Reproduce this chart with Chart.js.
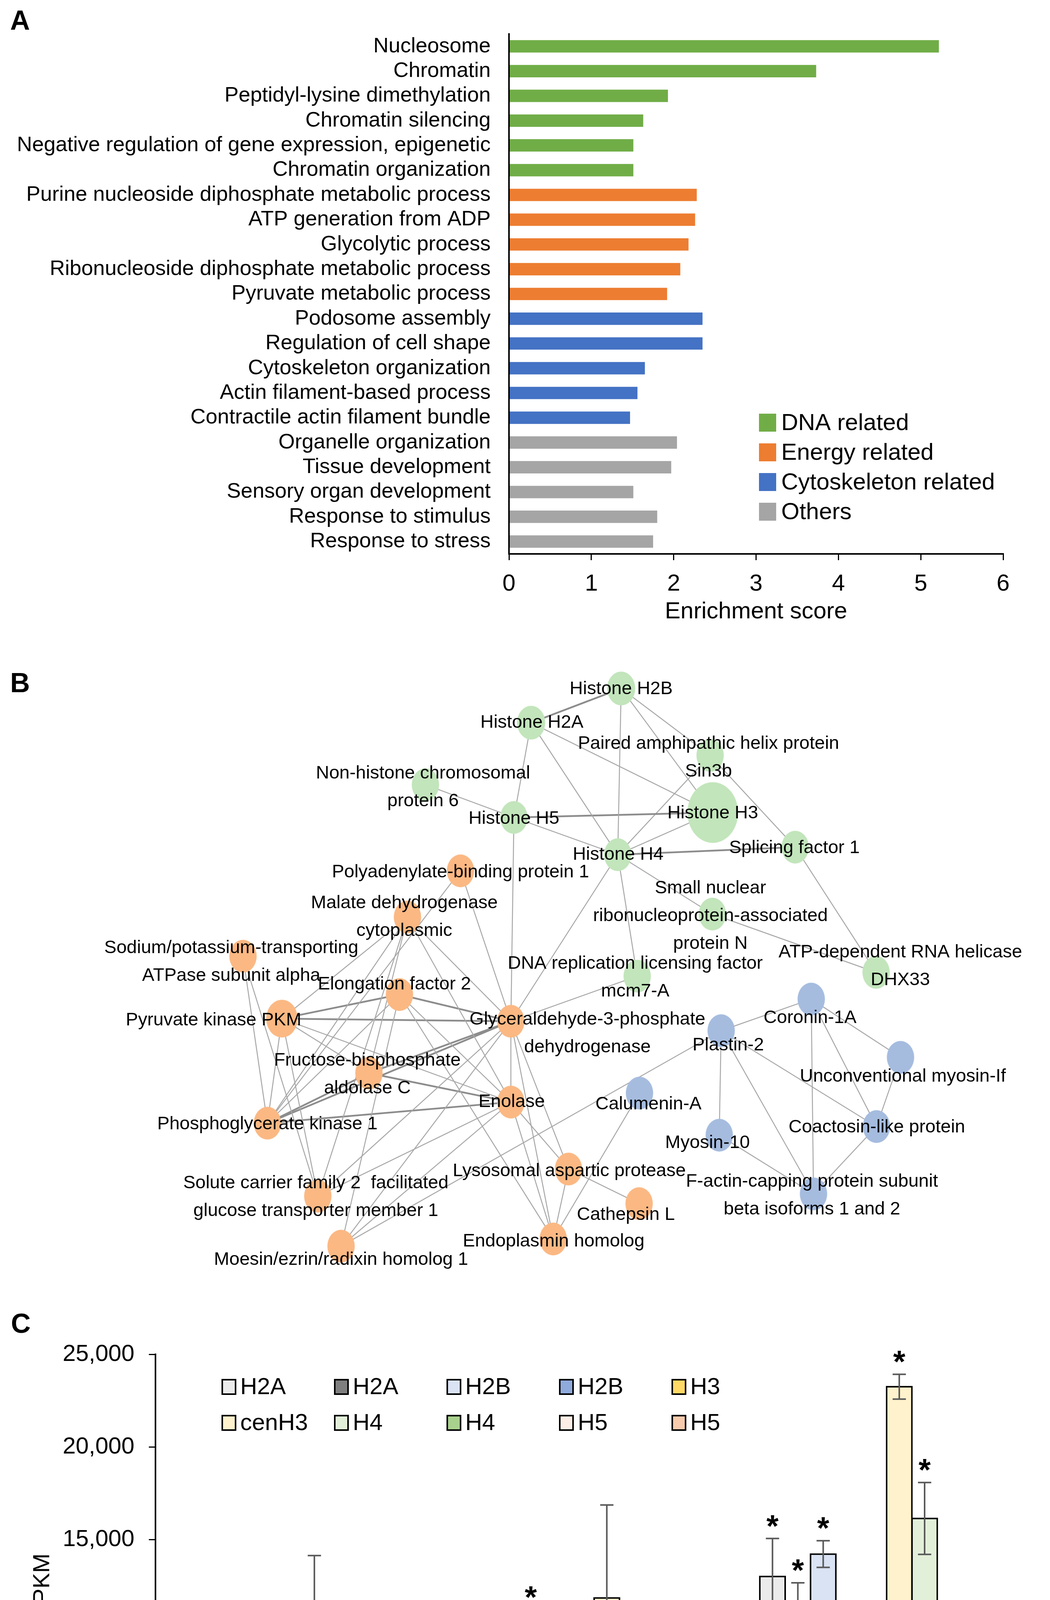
<!DOCTYPE html>
<html>
<head>
<meta charset="utf-8">
<script src="https://cdn.jsdelivr.net/npm/chart.js@4.4.1/dist/chart.umd.min.js"></script>
<style>
  html, body { margin: 0; padding: 0; background: #fff; }
  body { width: 2688px; height: 4888px; position: relative; overflow: hidden; }
  canvas { position: absolute; left: 0; }
  .tag { position: absolute; font: bold 70px 'Liberation Sans', Arial, sans-serif; line-height: 1; color: #000; z-index: 2; }
</style>
</head>
<body>
<canvas id="chartA" width="2688" height="1640" style="top:0;width:2688px;height:1640px"></canvas>
<canvas id="chartB" width="2688" height="1660" style="top:1640px;width:2688px;height:1660px"></canvas>
<canvas id="chartC" width="2688" height="1588" style="top:3300px;width:2688px;height:1588px"></canvas>
<div class="tag" style="left:26px;top:17px">A</div>
<div class="tag" style="left:26px;top:1713px">B</div>
<div class="tag" style="left:28px;top:3353px">C</div>
<script>
const FONT = "'Liberation Sans', Arial, sans-serif";
Chart.defaults.font.family = FONT;
Chart.defaults.color = '#000';

// ---- Panel A data ----
const goTerms = [
  'Nucleosome', 'Chromatin', 'Peptidyl-lysine dimethylation', 'Chromatin silencing',
  'Negative regulation of gene expression, epigenetic', 'Chromatin organization',
  'Purine nucleoside diphosphate metabolic process', 'ATP generation from ADP',
  'Glycolytic process', 'Ribonucleoside diphosphate metabolic process', 'Pyruvate metabolic process',
  'Podosome assembly', 'Regulation of cell shape', 'Cytoskeleton organization',
  'Actin filament-based process', 'Contractile actin filament bundle',
  'Organelle organization', 'Tissue development', 'Sensory organ development',
  'Response to stimulus', 'Response to stress'
];
const enrichment = [5.22, 3.73, 1.93, 1.63, 1.51, 1.51, 2.28, 2.26, 2.18, 2.08, 1.92,
                    2.35, 2.35, 1.65, 1.56, 1.47, 2.04, 1.97, 1.51, 1.80, 1.75];
const termGroup = [0, 0, 0, 0, 0, 0, 1, 1, 1, 1, 1, 2, 2, 2, 2, 2, 3, 3, 3, 3, 3];
const groupNames = ['DNA related', 'Energy related', 'Cytoskeleton related', 'Others'];
const groupColors = ['#70ad47', '#ed7d31', '#4472c4', '#a5a5a5'];
const scoreTicks = [0, 6];

// ---- Panel B data (network layout units) ----
const nodeIds = ['H2B', 'H2A', 'SIN3B', 'NHP6', 'H5', 'H3', 'H4', 'SF1', 'SNRPN', 'MCM7', 'DHX33',
  'PABP1', 'MDH', 'NAK', 'EF2', 'PKM', 'GAPDH', 'FBA', 'ENO', 'PGK', 'LAP', 'SLC2', 'CTSL', 'ENPL', 'MOES',
  'CORO', 'PLS2', 'MYO1F', 'CALU', 'COTL', 'MYO10', 'CAPZB'];
const nodeNames = [
  ['Histone H2B'], ['Histone H2A'], ['Paired amphipathic helix protein', 'Sin3b'],
  ['Non-histone chromosomal', 'protein 6'], ['Histone H5'], ['Histone H3'], ['Histone H4'],
  ['Splicing factor 1'], ['Small nuclear', 'ribonucleoprotein-associated', 'protein N'],
  ['DNA replication licensing factor', 'mcm7-A'], ['ATP-dependent RNA helicase', 'DHX33'],
  ['Polyadenylate-binding protein 1'], ['Malate dehydrogenase', 'cytoplasmic'],
  ['Sodium/potassium-transporting', 'ATPase subunit alpha'], ['Elongation factor 2'],
  ['Pyruvate kinase PKM'], ['Glyceraldehyde-3-phosphate', 'dehydrogenase'],
  ['Fructose-bisphosphate', 'aldolase C'], ['Enolase'], ['Phosphoglycerate kinase 1'],
  ['Lysosomal aspartic protease'], ['Solute carrier family 2  facilitated', 'glucose transporter member 1'],
  ['Cathepsin L'], ['Endoplasmin homolog'], ['Moesin/ezrin/radixin homolog 1'],
  ['Coronin-1A'], ['Plastin-2'], ['Unconventional myosin-If'], ['Calumenin-A'],
  ['Coactosin-like protein'], ['Myosin-10'], ['F-actin-capping protein subunit', 'beta isoforms 1 and 2']
];
const nodeX = [1596, 1360, 1829, 1083, 1315, 1836, 1587, 2052, 1835, 1638, 2264,
  1175, 1036, 605, 1015, 707, 1307, 935, 1307, 669, 1458, 801, 1643, 1418, 862,
  2094, 1858, 2328, 1644, 2265, 1853, 2100];
const nodeY = [95, 186, 273, 351, 438, 425, 537, 517, 695, 860, 850,
  580, 703, 807, 909, 973, 980, 1118, 1195, 1251, 1373, 1445, 1465, 1559, 1578,
  921, 1005, 1076, 1171, 1260, 1283, 1439];
const nodeCluster = [0, 0, 0, 0, 0, 0, 0, 0, 0, 0, 0,
  1, 1, 1, 1, 1, 1, 1, 1, 1, 1, 1, 1, 1, 1,
  2, 2, 2, 2, 2, 2, 2];
const nodeWeight = [1.03, 1.03, 1, 1, 1, 1.85, 1, 1, 1, 1, 1,
  1, 1, 1, 1, 1.15, 1, 1, 1, 1, 1, 1, 1, 1, 1,
  1, 1, 1, 1, 1, 1, 1];
const edges = [
  ['H2B', 'H2A', 2], ['H2B', 'H4', 1], ['H2B', 'H3', 1], ['H2B', 'SIN3B', 1], ['H2A', 'H3', 1],
  ['H2A', 'H4', 1], ['H2A', 'H5', 1], ['NHP6', 'H5', 1], ['H5', 'H4', 1], ['H5', 'H3', 2],
  ['H3', 'H4', 1], ['SIN3B', 'H4', 1], ['SIN3B', 'SF1', 1], ['H4', 'SF1', 2], ['H4', 'SNRPN', 1],
  ['SNRPN', 'DHX33', 1], ['SF1', 'DHX33', 1], ['H4', 'MCM7', 1], ['H4', 'GAPDH', 1],
  ['H5', 'GAPDH', 1], ['MCM7', 'GAPDH', 1],
  ['PABP1', 'GAPDH', 1], ['PABP1', 'PGK', 1], ['MDH', 'PKM', 1], ['MDH', 'GAPDH', 1],
  ['MDH', 'ENO', 1], ['MDH', 'PGK', 1], ['MDH', 'FBA', 1], ['MDH', 'SLC2', 1], ['NAK', 'PGK', 1],
  ['NAK', 'SLC2', 1], ['EF2', 'PKM', 2], ['EF2', 'GAPDH', 2], ['EF2', 'ENO', 1], ['EF2', 'PGK', 1],
  ['EF2', 'MOES', 1], ['EF2', 'ENPL', 1], ['PKM', 'GAPDH', 2], ['PKM', 'FBA', 1], ['PKM', 'ENO', 1],
  ['PKM', 'PGK', 1], ['PKM', 'SLC2', 1], ['GAPDH', 'FBA', 2], ['GAPDH', 'ENO', 1], ['GAPDH', 'PGK', 2],
  ['GAPDH', 'LAP', 1], ['GAPDH', 'ENPL', 1], ['GAPDH', 'SLC2', 1], ['GAPDH', 'MOES', 1],
  ['FBA', 'ENO', 2], ['FBA', 'PGK', 2], ['ENO', 'PGK', 2], ['ENO', 'LAP', 1], ['ENO', 'ENPL', 1],
  ['ENO', 'SLC2', 1], ['ENO', 'MOES', 1], ['LAP', 'CTSL', 1], ['LAP', 'ENPL', 1], ['ENPL', 'CALU', 1],
  ['PLS2', 'MOES', 1],
  ['PLS2', 'CORO', 1], ['PLS2', 'MYO10', 1], ['PLS2', 'CAPZB', 1], ['PLS2', 'COTL', 1],
  ['CORO', 'MYO1F', 1], ['CORO', 'COTL', 1], ['CORO', 'CAPZB', 1], ['MYO1F', 'COTL', 1],
  ['COTL', 'CAPZB', 1], ['MYO10', 'CAPZB', 1]
];

// ---- Panel C data ----
const days = ['0', '10', '20'];
const histoneNames = ['H2A', 'H2A', 'H2B', 'H2B', 'H3', 'cenH3', 'H4', 'H4', 'H5', 'H5'];
const fpkm = [
  [1630, 5700, 13010], [570, 3360, 10660], [1390, 6890, 14220], [140, 530, 1060], [0, 0, 220],
  [9020, 11850, 23250], [4190, 7220, 16140], [2290, 280, 700], [1460, 2720, 6020], [250, 0, 0]
];
const fpkmErr = [
  [640, 2120, 2050], [580, 1520, 2010], [720, 4320, 720], [230, 300, 490], [0, 0, 130],
  [5120, 5020, 670], [2210, 3930, 1940], [1880, 520, 1260], [830, 2100, 1050], [240, 0, 0]
];
const significant = [
  [0, 1, 1], [0, 0, 1], [0, 1, 1], [0, 0, 1], [0, 0, 1],
  [0, 0, 1], [0, 0, 1], [0, 0, 0], [0, 0, 1], [0, 0, 0]
];
const fpkmTicks = [0, 25000, 5000];
const histoneColors = ['#ebebeb', '#7f7f7f', '#dae3f3', '#8faadc', '#ffd966',
                       '#fff2cc', '#e2f0d9', '#a9d18e', '#fdefe6', '#f8cbad'];

// ================= Panel A =================
const legendA = {
  id: 'legendA',
  afterDraw(chart) {
    const {ctx, chartArea} = chart;
    ctx.save();
    ctx.font = '60px ' + FONT;
    ctx.textBaseline = 'middle';
    chart.data.datasets.forEach((ds, i) => {
      const x = chartArea.left + 640;
      const y = chartArea.top + 995 + i * 76;
      ctx.fillStyle = ds.backgroundColor;
      ctx.fillRect(x, y - 23, 44, 46);
      ctx.fillStyle = '#000';
      ctx.fillText(ds.label, x + 57, y + 2);
    });
    ctx.restore();
  }
};

new Chart(document.getElementById('chartA'), {
  type: 'bar',
  data: {
    labels: goTerms,
    datasets: groupNames.map((name, g) => ({
      label: name,
      data: enrichment.map((v, i) => termGroup[i] === g ? v : null),
      backgroundColor: groupColors[g],
      barPercentage: 0.5,
      categoryPercentage: 1,
      grouped: false
    }))
  },
  options: {
    indexAxis: 'y',
    responsive: false,
    devicePixelRatio: 1,
    animation: false,
    events: [],
    layout: { padding: { top: 87, right: 120, left: 0, bottom: 0 } },
    plugins: { legend: { display: false }, tooltip: { enabled: false } },
    scales: {
      x: {
        min: scoreTicks[0], max: scoreTicks[1],
        ticks: { stepSize: 1, font: { size: 60 }, padding: 25 },
        grid: { drawOnChartArea: false, drawTicks: true, tickLength: 16, color: '#000', lineWidth: 3 },
        border: { color: '#000', width: 4, z: 1 },
        title: { display: true, text: 'Enrichment score', font: { size: 60 }, padding: { top: 0, bottom: 38 } },
        afterFit: s => { s.height = 222; }
      },
      y: {
        ticks: { font: { size: 54 }, padding: 47, autoSkip: false },
        grid: { display: false, drawTicks: false },
        border: { color: '#000', width: 4, z: 1 },
        afterFit: s => { s.width = 1303; }
      }
    }
  },
  plugins: [legendA]
});

// ================= Panel B =================
const clusterColors = ['#c2e5bb', '#fbb883', '#a5bcdf'];
const labelShift = {
  H2B: [0, 2], H2A: [2, 0], SIN3B: [-4, 6], NHP6: [-6, 7], H5: [0, 3], H3: [0, 2], H4: [1, 0],
  SF1: [-2, 2], SNRPN: [-5, 5], MCM7: [-5, 4], DHX33: [62, -16], PABP1: [0, 4], MDH: [-8, 0],
  NAK: [-30, 15], EF2: [-13, -26], PKM: [-175, 4], GAPDH: [196, 31], FBA: [-4, 3], ENO: [2, 0],
  PGK: [0, 3], LAP: [2, 5], SLC2: [-5, 3], CTSL: [-34, 29], ENPL: [1, 6], MOES: [0, 35],
  CORO: [-3, 48], PLS2: [18, 38], MYO1F: [6, 49], CALU: [23, 29], COTL: [1, 2], MYO10: [-30, 20],
  CAPZB: [-4, 4]
};

function ellipseImage(color, w) {
  const rx = 35 * w, ry = 42 * w;
  const c = document.createElement('canvas');
  c.width = Math.ceil(rx * 2 + 2);
  c.height = Math.ceil(ry * 2 + 2);
  const g = c.getContext('2d');
  g.fillStyle = color;
  g.beginPath();
  g.ellipse(c.width / 2, c.height / 2, rx, ry, 0, 0, Math.PI * 2);
  g.fill();
  return c;
}
const nodeImages = nodeIds.map((id, i) => ellipseImage(clusterColors[nodeCluster[i]], nodeWeight[i]));

const nodeLabels = {
  id: 'nodeLabels',
  afterDatasetsDraw(chart) {
    const {ctx} = chart;
    const meta = chart.getDatasetMeta(0);
    ctx.save();
    ctx.font = '47px ' + FONT;
    ctx.fillStyle = '#000';
    ctx.textAlign = 'center';
    ctx.textBaseline = 'middle';
    meta.data.forEach((pt, i) => {
      const lines = nodeNames[i];
      const [dx, dy] = labelShift[nodeIds[i]];
      const lh = 71;
      const y0 = pt.y + dy - (lines.length - 1) * lh / 2;
      lines.forEach((t, k) => ctx.fillText(t, pt.x + dx, y0 + k * lh));
    });
    ctx.restore();
  }
};

const idx = id => nodeIds.indexOf(id);
new Chart(document.getElementById('chartB'), {
  type: 'scatter',
  data: {
    datasets: [
      {
        label: 'proteins',
        data: nodeIds.map((id, i) => ({ x: nodeX[i], y: nodeY[i] })),
        pointStyle: c => (c.dataIndex != null ? nodeImages[c.dataIndex] : 'circle'),
        pointRadius: 30,
        order: 0
      },
      ...edges.map(([a, b, w]) => ({
        type: 'line',
        label: a + '-' + b,
        data: [{ x: nodeX[idx(a)], y: nodeY[idx(a)] }, { x: nodeX[idx(b)], y: nodeY[idx(b)] }],
        borderColor: w > 1 ? '#8c8c8c' : '#a8a8a8',
        borderWidth: w > 1 ? 4.5 : 2.5,
        pointRadius: 0,
        fill: false,
        order: 1
      }))
    ]
  },
  options: {
    responsive: false,
    devicePixelRatio: 1,
    animation: false,
    events: [],
    layout: { padding: 0 },
    plugins: { legend: { display: false }, tooltip: { enabled: false } },
    scales: {
      x: { type: 'linear', min: 0, max: 2688, display: false },
      y: { type: 'linear', min: 0, max: 1660, reverse: true, display: false }
    }
  },
  plugins: [nodeLabels]
});

// ================= Panel C =================
const errorBars = {
  id: 'errorBars',
  afterDatasetsDraw(chart) {
    const {ctx} = chart;
    const ys = chart.scales.y;
    ctx.save();
    chart.data.datasets.forEach((ds, i) => {
      chart.getDatasetMeta(i).data.forEach((bar, j) => {
        const e = fpkmErr[i][j];
        if (!e) return;
        const v = fpkm[i][j];
        const yt = ys.getPixelForValue(v + e);
        const yb = ys.getPixelForValue(Math.max(0, v - e));
        const x = bar.x;
        ctx.strokeStyle = '#595959';
        ctx.lineWidth = 4;
        ctx.beginPath();
        ctx.moveTo(x, yt); ctx.lineTo(x, yb);
        ctx.moveTo(x - 17, yt); ctx.lineTo(x + 17, yt);
        if (v - e > 0) { ctx.moveTo(x - 17, yb); ctx.lineTo(x + 17, yb); }
        ctx.stroke();
        if (significant[i][j]) {
          ctx.fillStyle = '#000';
          ctx.font = 'bold 80px ' + FONT;
          ctx.textAlign = 'center';
          ctx.textBaseline = 'alphabetic';
          const m = ctx.measureText('*');
          const mid = (m.actualBoundingBoxAscent - m.actualBoundingBoxDescent) / 2;
          ctx.fillText('*', x, yt - 45 + mid);
        }
      });
    });
    ctx.restore();
  }
};

const legendC = {
  id: 'legendC',
  afterDraw(chart) {
    const {ctx, chartArea} = chart;
    ctx.save();
    ctx.font = '60px ' + FONT;
    ctx.textBaseline = 'middle';
    chart.data.datasets.forEach((ds, i) => {
      const x = chartArea.left + 171 + (i % 5) * 288;
      const y = chartArea.top + 83 + Math.floor(i / 5) * 92;
      ctx.fillStyle = ds.backgroundColor;
      ctx.fillRect(x, y - 18, 34, 37);
      ctx.lineWidth = 4;
      ctx.strokeStyle = '#000';
      ctx.strokeRect(x, y - 18, 34, 37);
      ctx.fillStyle = '#000';
      ctx.fillText(ds.label, x + 46, y + 2);
    });
    ctx.restore();
  }
};

new Chart(document.getElementById('chartC'), {
  type: 'bar',
  data: {
    labels: days,
    datasets: histoneNames.map((name, i) => ({
      label: name,
      data: fpkm[i],
      backgroundColor: histoneColors[i],
      borderColor: '#000',
      borderWidth: 4,
      inflateAmount: 2,
      barPercentage: 1,
      categoryPercentage: 0.867
    }))
  },
  options: {
    responsive: false,
    devicePixelRatio: 1,
    animation: false,
    events: [],
    layout: { padding: { top: 167, right: 44, left: 0, bottom: 0 } },
    plugins: { legend: { display: false }, tooltip: { enabled: false } },
    scales: {
      x: {
        grid: { display: false, drawTicks: false },
        border: { color: '#000', width: 4, z: 1 },
        ticks: { font: { size: 60 }, padding: 45 },
        title: { display: true, text: 'Time after exposure (days)', font: { size: 60 }, padding: { top: 0, bottom: 21 } },
        afterFit: s => { s.height = 235; }
      },
      y: {
        min: fpkmTicks[0], max: fpkmTicks[1],
        ticks: {
          stepSize: fpkmTicks[2], font: { size: 60 }, padding: 37,
          callback: v => (v >= 10000 ? v.toLocaleString('en-US') : String(v))
        },
        grid: { drawOnChartArea: false, drawTicks: true, tickLength: 17, color: '#000', lineWidth: 3 },
        border: { color: '#000', width: 4, z: 1 },
        title: { display: true, text: 'FPKM', font: { size: 60 }, padding: { top: 73, bottom: 0 } },
        afterFit: s => { s.width = 398; }
      }
    }
  },
  plugins: [errorBars, legendC]
});
</script>
</body>
</html>
